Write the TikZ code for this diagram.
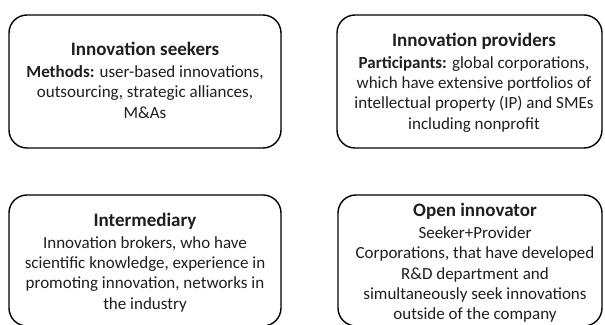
\documentclass[tikz,border=0pt]{standalone}
\usepackage{fontspec}
\setmainfont{Carlito}
\begin{document}
\begin{tikzpicture}[x=1pt,y=1pt,
  card/.style={draw=black, line width=1.4pt, rounded corners=18pt, inner sep=0pt, fill=white},
  txt/.style={align=center, inner sep=0pt, anchor=north, text=black!88, font=\fontsize{17}{20.3}\selectfont},
  ttl/.style={}]
\newcommand{\cardtitle}[1]{{\fontsize{19}{22}\selectfont\bfseries #1}\\[1.7pt]}
\useasboundingbox (0,0) rectangle (605,324);
\node[card, minimum width=272pt, minimum height=133pt] (seek) at (145,242.5) {};
\node[card, minimum width=265pt, minimum height=133pt] (prov) at (469.5,242.5) {};
\node[card, minimum width=272pt, minimum height=131pt] (inter) at (145,63.5) {};
\node[card, minimum width=264pt, minimum height=131pt] (open) at (470,63.5) {};
\node[txt] (seekT) at (145,282) {\cardtitle{Innovation seekers}\textbf{Methods:} user-based innovations,\\outsourcing, strategic alliances,\\M\&As};
\node[txt] (provT) at (474,291.3) {\cardtitle{Innovation providers}\textbf{Participants:} global corporations,\\which have extensive portfolios of\\intellectual property (IP) and SMEs\\including nonprofit};
\node[txt] (interT) at (145,111.3) {\cardtitle{Intermediary}Innovation brokers, who have\\scientific knowledge, experience in\\promoting innovation, networks in\\the industry};
\node[txt] (openT) at (475,121) {\cardtitle{Open innovator}Seeker+Provider\\Corporations, that have developed\\R\&D department and\\simultaneously seek innovations\\outside of the company};
\end{tikzpicture}
\end{document}
